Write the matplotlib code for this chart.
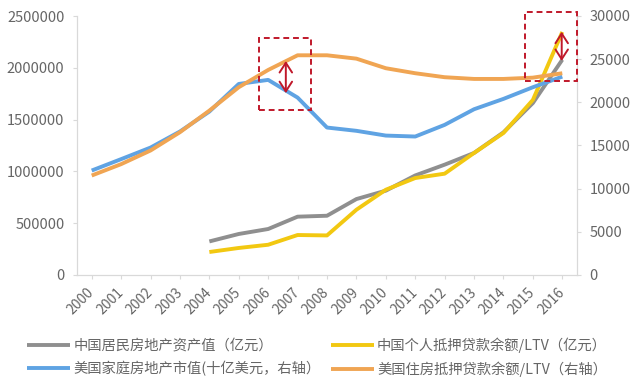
import matplotlib
matplotlib.use("Agg")
import matplotlib.pyplot as plt
from matplotlib.patches import Rectangle
from matplotlib.ticker import FuncFormatter

plt.rcParams['font.family'] = ['Noto Sans CJK SC', 'DejaVu Sans']

years = [str(y) for y in range(2000, 2017)]

# Left axis (亿元), starts 2004
cn_years = list(range(2004, 2017))
cn_property = [324000, 396000, 444000, 563000, 572000, 733000, 814000,
               961000, 1065000, 1178000, 1377000, 1660000, 2078000]
cn_mortgage_ltv = [222000, 261000, 292000, 386000, 382000, 630000, 823000,
                   936000, 978000, 1178000, 1371000, 1690000, 2346000]

# Right axis
us_property = [12100, 13420, 14760, 16620, 18930, 22130, 22600, 20550, 17080,
               16700, 16150, 16040, 17390, 19200, 20400, 21750, 22980]
us_mortgage_ltv = [11520, 12840, 14420, 16540, 19040, 21750, 23750, 25450, 25450,
                   25060, 23950, 23370, 22910, 22710, 22710, 22860, 23370]

labels = ['中国居民房地产资产值（亿元）', '美国家庭房地产市值(十亿美元，右轴）',
          '中国个人抵押贷款余额/LTV（亿元）', '美国住房抵押贷款余额/LTV（右轴）']

c_gray = '#8f8f8f'
c_yellow = '#f2c811'
c_blue = '#5fa3e3'
c_orange = '#f0a553'
tick_color = '#666666'
spine_color = '#d9d9d9'

fig = plt.figure(figsize=(6.4, 3.91), dpi=100)
ax = fig.add_axes([77/640, 1-275/391, 500/640, 259/391])
ax2 = ax.twinx()

x_all = list(range(len(years)))
x_cn = [y - 2000 for y in cn_years]

lw = 2.8
l1, = ax.plot(x_cn, cn_property, color=c_gray, lw=lw, solid_capstyle='butt')
l2, = ax.plot(x_cn, cn_mortgage_ltv, color=c_yellow, lw=lw, solid_capstyle='butt')
l3, = ax2.plot(x_all, us_property, color=c_blue, lw=lw, solid_capstyle='butt')
l4, = ax2.plot(x_all, us_mortgage_ltv, color=c_orange, lw=lw, solid_capstyle='butt')

ax.set_xlim(-0.5, 16.5)
ax.set_ylim(0, 2500000)
ax2.set_ylim(0, 30000)
ax.set_yticks(range(0, 2500001, 500000))
ax2.set_yticks(range(0, 30001, 5000))
ax.yaxis.set_major_formatter(FuncFormatter(lambda v, p: f'{int(v)}'))
ax2.yaxis.set_major_formatter(FuncFormatter(lambda v, p: f'{int(v)}'))
ax.set_xticks(x_all)
ax.set_xticklabels(years, rotation=45, ha='right', va='center', rotation_mode='anchor')

for a in (ax, ax2):
    for s in a.spines.values():
        s.set_color(spine_color)
    a.spines['top'].set_visible(False)
    a.tick_params(colors=tick_color, labelsize=10.5, length=3, width=0.8)
    a.tick_params(axis='both', color=spine_color)
ax.tick_params(axis='x', labelsize=10, pad=8)
ax.tick_params(axis='y', pad=6)
ax2.tick_params(axis='y', pad=6)
ax.set_zorder(1)
ax.patch.set_visible(False)
ax2.set_zorder(2)

# Annotation boxes and arrows (right-axis data coordinates)
red = '#c0182a'
ax2.add_patch(Rectangle((5.70, 19130), 1.75, 8330, fill=False, ls=(0, (3, 2)),
                        ec=red, lw=1.4, clip_on=False, zorder=5))
ax2.add_patch(Rectangle((14.72, 22510), 1.79, 7920, fill=False, ls=(0, (3, 2)),
                        ec=red, lw=1.4, clip_on=False, zorder=5))
arrowprops = dict(arrowstyle='<->,head_length=0.7,head_width=0.45', color=red, lw=1.4,
                  shrinkA=0, shrinkB=0)
ax2.annotate('', xy=(6.60, 24790), xytext=(6.60, 21060), arrowprops=arrowprops,
             annotation_clip=False, zorder=6)
ax2.annotate('', xy=(15.98, 28180), xytext=(15.98, 24790), arrowprops=arrowprops,
             annotation_clip=False, zorder=6)

leg = fig.legend([l1, l3, l2, l4], labels, ncol=2, loc='upper left',
                 bbox_to_anchor=(27/640, 1-337/391), frameon=False,
                 fontsize=10.3, handlelength=3.0, handletextpad=0.25,
                 columnspacing=0.7, labelspacing=0.6, borderpad=0, borderaxespad=0)
for t in leg.get_texts():
    t.set_color(tick_color)

fig.savefig('out.png', dpi=100)
